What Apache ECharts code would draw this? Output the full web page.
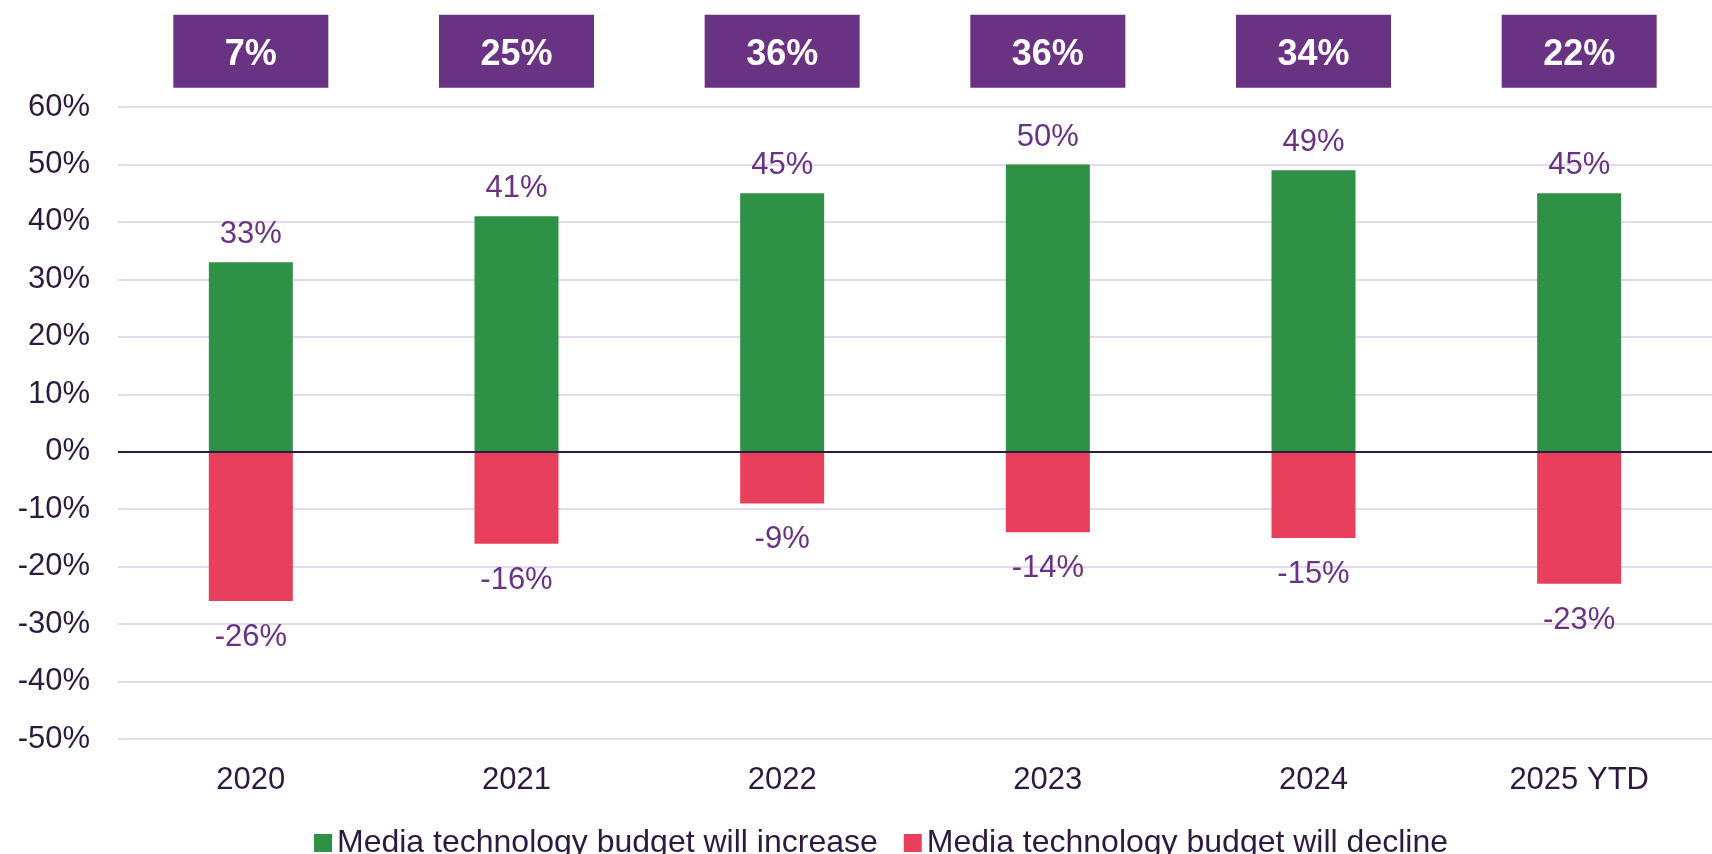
<!DOCTYPE html>
<html>
<head>
<meta charset="utf-8">
<title>Media technology budget outlook</title>
<script src="https://cdn.jsdelivr.net/npm/echarts@6/dist/echarts.min.js"></script>
<style>
  html, body { margin: 0; padding: 0; background: #ffffff; }
  #chart { width: 1712px; height: 854px; }
</style>
</head>
<body>
<div id="chart"></div>
<script>
// Survey years
const categories = ['2020', '2021', '2022', '2023', '2024', '2025 YTD'];
// Share of respondents expecting an increase (%)
const increaseValues = [33, 41, 45, 50, 49, 45];
// Share of respondents expecting a decline (%)
const declineValues = [-26, -16, -9, -14, -15, -23];
// Net balance shown in the boxes above each year (%)
const netValues = [7, 25, 36, 36, 34, 22];
// Value-axis ticks
const yTicks = { min: -50, max: 60, interval: 10 };

const FONT = '"Liberation Sans", Arial, sans-serif';
const TEXT_DARK = '#2d1a3e';
const PURPLE = '#6a3282';
const GREEN = '#2f9146';
const RED = '#e8405c';
const GRID_LINE = '#e8d8f0';
// Vertical placement of the net-balance boxes, in axis units above the plot
const BOX_LEVEL = 69.7;

const chart = echarts.init(document.getElementById('chart'), null, { renderer: 'canvas' });

chart.setOption({
  backgroundColor: '#ffffff',
  animation: false,
  textStyle: { fontFamily: FONT },
  grid: { left: 118, right: -13, top: 107, bottom: 115, containLabel: false },
  legend: {
    data: ['Media technology budget will increase', 'Media technology budget will decline'],
    left: 309,
    top: 822,
    icon: 'rect',
    itemWidth: 18,
    itemHeight: 18,
    itemGap: 26,
    textStyle: { fontFamily: FONT, fontSize: 32, color: TEXT_DARK }
  },
  xAxis: {
    type: 'category',
    data: categories,
    axisLine: { show: false, onZero: false },
    axisTick: { show: false },
    axisLabel: { fontFamily: FONT, fontSize: 31, color: TEXT_DARK, margin: 26 },
    splitLine: { show: false }
  },
  yAxis: {
    type: 'value',
    min: yTicks.min,
    max: yTicks.max,
    interval: yTicks.interval,
    axisLine: { show: false },
    axisTick: { show: false },
    axisLabel: {
      fontFamily: FONT, fontSize: 31, color: TEXT_DARK, margin: 28,
      padding: [4, 0, 0, 0],
      formatter: v => v + '%'
    },
    splitLine: { show: true, lineStyle: { color: GRID_LINE, width: 2 } }
  },
  series: [
    {
      name: 'Media technology budget will increase',
      type: 'bar',
      stack: 'budget',
      barWidth: 84,
      data: increaseValues,
      itemStyle: { color: GREEN },
      label: {
        show: true, position: 'top', distance: 12,
        fontFamily: FONT, fontSize: 31, color: PURPLE,
        formatter: p => p.value + '%'
      },
      markLine: {
        silent: true,
        symbol: 'none',
        label: { show: false },
        lineStyle: { color: TEXT_DARK, width: 2, type: 'solid' },
        data: [{ yAxis: 0 }],
        z: 5
      }
    },
    {
      name: 'Media technology budget will decline',
      type: 'bar',
      stack: 'budget',
      barWidth: 84,
      data: declineValues,
      itemStyle: { color: RED },
      label: {
        show: true, position: 'bottom', distance: 21,
        fontFamily: FONT, fontSize: 31, color: PURPLE,
        formatter: p => p.value + '%'
      }
    },
    {
      name: 'Net balance',
      type: 'scatter',
      clip: false,
      silent: true,
      symbol: 'rect',
      symbolSize: [155, 73],
      itemStyle: { color: PURPLE, opacity: 1 },
      data: categories.map(c => [c, BOX_LEVEL]),
      label: {
        show: true, position: 'inside', offset: [0, 4],
        fontFamily: FONT, fontSize: 36, fontWeight: 'bold', color: '#ffffff',
        formatter: p => netValues[p.dataIndex] + '%'
      },
      z: 10
    }
  ]
});
</script>
</body>
</html>
